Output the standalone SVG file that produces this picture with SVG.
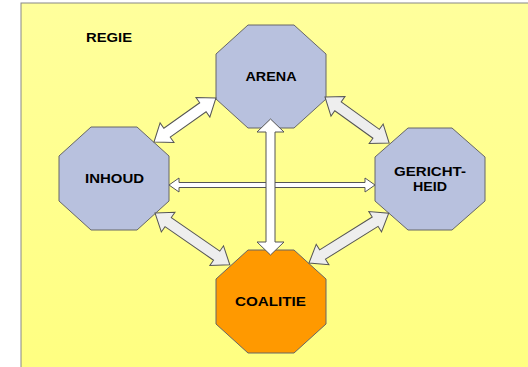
<svg xmlns="http://www.w3.org/2000/svg" width="528" height="367" viewBox="0 0 528 367">
<defs>
<linearGradient id="bg" x1="0" y1="0" x2="0" y2="1">
<stop offset="0" stop-color="#FFFF9C"/>
<stop offset="1" stop-color="#FFFF80"/>
</linearGradient>
<style>
.oct{stroke:#666666;stroke-width:1}
.blue{fill:#B8C1DE}
.orange{fill:#FF9900}
.lbl{font-family:"Liberation Sans",Arial,sans-serif;font-weight:bold;font-size:12.5px;fill:#000000;text-anchor:middle}
.arr{stroke:#555555;stroke-width:1;stroke-linejoin:miter}
.w{fill:#FFFFFF}
.g{fill:#EEEEEE}
</style>
</defs>
<rect x="21" y="3" width="520" height="380" fill="url(#bg)" stroke="#888888" stroke-width="1"/>
<text class="lbl" x="109" y="42" textLength="46" lengthAdjust="spacingAndGlyphs">REGIE</text>
<g id="arena">
<polygon class="oct blue" points="248,25 294,25 326,54 326,99 294,128 248,128 216,99 216,54"/>
<text class="lbl" x="271" y="81" textLength="51" lengthAdjust="spacingAndGlyphs">ARENA</text>
</g>
<g id="inhoud">
<polygon class="oct blue" points="91,127 137,127 169,156 169,201 137,230 91,230 59,201 59,156"/>
<text class="lbl" x="114.5" y="182.5" textLength="59" lengthAdjust="spacingAndGlyphs">INHOUD</text>
</g>
<g id="gerichtheid">
<polygon class="oct blue" points="408,128 452,128 485,157 485,201 452,230 408,230 375,201 375,157"/>
<text class="lbl" x="430" y="176" textLength="72" lengthAdjust="spacingAndGlyphs">GERICHT-</text>
<text class="lbl" x="430" y="191" textLength="34" lengthAdjust="spacingAndGlyphs">HEID</text>
</g>
<g id="coalitie">
<polygon class="oct orange" points="248,250 294,250 326,279 326,324 294,353 248,353 216,324 216,279"/>
<text class="lbl" x="270.5" y="305.5" textLength="71" lengthAdjust="spacingAndGlyphs">COALITIE</text>
</g>
<g id="connectors">
<path class="arr w" transform="translate(169,185)" d="M0,0 L10,-7 L10,-2.5 L196,-2.5 L196,-7 L206,0 L196,7 L196,2.5 L10,2.5 L10,7 Z"/>
<path class="arr w" transform="translate(270.5,119) rotate(90)" d="M0,0 L13,-13.5 L13,-4.5 L123,-4.5 L123,-13.5 L136,0 L123,13.5 L123,4.5 L13,4.5 L13,13.5 Z"/>
<path class="arr w" transform="translate(154,142) rotate(-35.4)" d="M0,0 L16,-12 L16,-5.5 L60,-5.5 L60,-12 L76,0 L60,12 L60,5.5 L16,5.5 L16,12 Z"/>
<path class="arr g" transform="translate(325,97) rotate(35.7)" d="M0,0 L16,-12 L16,-5.5 L63,-5.5 L63,-12 L79,0 L63,12 L63,5.5 L16,5.5 L16,12 Z"/>
<path class="arr g" transform="translate(155,213) rotate(34.7)" d="M0,0 L16,-12 L16,-5.5 L75,-5.5 L75,-12 L91,0 L75,12 L75,5.5 L16,5.5 L16,12 Z"/>
<path class="arr g" transform="translate(309,263) rotate(-32)" d="M0,0 L16,-12 L16,-5.5 L78,-5.5 L78,-12 L94,0 L78,12 L78,5.5 L16,5.5 L16,12 Z"/>
</g>
</svg>
